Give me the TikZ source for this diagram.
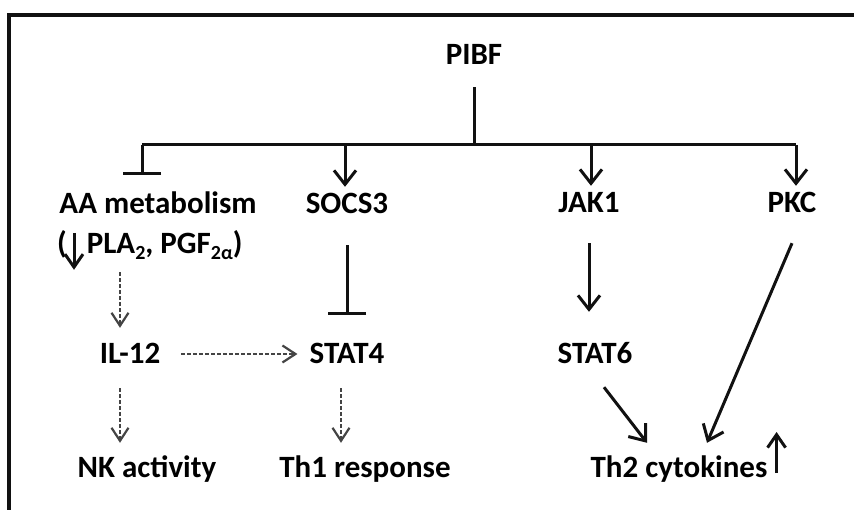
\documentclass[tikz,border=0pt]{standalone}
\usepackage{fontspec}
\setmainfont{Carlito}
\usetikzlibrary{arrows.meta}
\definecolor{pathblack}{HTML}{111111}
\definecolor{pathgray}{HTML}{444444}
\newcommand{\lowsub}[1]{\raisebox{-0.35ex}{\fontsize{20}{20}\selectfont #1}}

\begin{document}
\begin{tikzpicture}[x=1pt,y=-1pt,
  lbl/.style={font=\fontsize{31}{34}\selectfont\bfseries,inner sep=0pt,text height=20pt,text depth=6pt},
  link/.style={line width=3pt,draw=pathblack},
  act/.style={link,-{Straight Barb[length=14pt,width=22pt]}},
  inh/.style={link,-{Bar[width=38pt]}},
  weak/.style={line width=2.2pt,draw=pathgray,dash pattern=on 4pt off 2pt,-{Straight Barb[length=13pt,width=17pt]}},
  trend/.style={line width=3pt,draw=pathblack,-{Straight Barb[length=13pt,width=18pt]}}]
\useasboundingbox (0,0) rectangle (854,510);
\draw[line width=4pt,pathblack] (9,510) -- (9,15) -- (854,15);

% labels
\node[lbl] (pibf) at (474,58) {PIBF};
\node[lbl] (aa) at (158,207) {AA metabolism};
\node[lbl,anchor=west] (aapla) at (57,247) {(\hspace{20pt}PLA\lowsub{2}, PGF\lowsub{2α})};
\node[lbl] (socs) at (347,207) {SOCS3};
\node[lbl] (jak) at (589,206) {JAK1};
\node[lbl] (pkc) at (792,206) {PKC};
\node[lbl] (il) at (130,357) {IL-12};
\node[lbl] (stat4) at (347,357) {STAT4};
\node[lbl] (stat6) at (595,357) {STAT6};
\node[lbl] (nk) at (147,470) {NK activity};
\node[lbl] (th1) at (365,470) {Th1 response};
\node[lbl] (th2) at (679,470) {Th2 cytokines};

% branch bar under PIBF
\coordinate (hub) at (474,145);
\coordinate (bl) at (142,145);
\coordinate (bs) at (345,145);
\coordinate (bj) at (591,145);
\coordinate (bp) at (796,145);
\draw[link,shorten <=16pt] (pibf) -- (hub);
\draw[link] (bl) -- (bp);
\draw[inh,shorten >=19pt] (bl) -- (bl |- aa.north);
\draw[act,shorten >=7pt] (bs) -- (bs |- socs.north);
\draw[act,shorten >=7pt] (bj) -- (bj |- jak.north);
\draw[act,shorten >=7pt] (bp) -- (bp |- pkc.north);

% solid links
\draw[inh,shorten <=25pt,shorten >=29pt] (socs) -- (stat4);
\draw[act,shorten <=24pt,shorten >=32pt] (jak) -- (jak |- stat6.north);
\draw[act] ([xshift=9pt,yshift=-17pt]stat6.south) -- ([xshift=-32pt,yshift=14pt]th2.north);
\draw[act] ([yshift=-24pt]pkc.south) -- ([xshift=28pt,yshift=14pt]th2.north);

% dashed links
\draw[weak] ([xshift=63pt,yshift=-12pt]aapla.south west) -- ([xshift=-10pt,yshift=16pt]il.north);
\draw[weak,shorten <=21pt,shorten >=12pt] ([yshift=3pt]il.east) -- ([yshift=3pt]stat4.west);
\draw[weak] ([xshift=-10pt,yshift=-18pt]il.south) -- ([xshift=-27pt,yshift=14pt]nk.north);
\draw[weak] ([xshift=-6pt,yshift=-18pt]stat4.south) -- ([xshift=-24pt,yshift=14pt]th1.north);

% up/down marks
\draw[trend] ([xshift=17pt,yshift=1pt]aapla.north west) -- ++(0,37);
\draw[trend] ([xshift=9pt,yshift=-3pt]th2.east) -- ++(0,-41);
\end{tikzpicture}
\end{document}
